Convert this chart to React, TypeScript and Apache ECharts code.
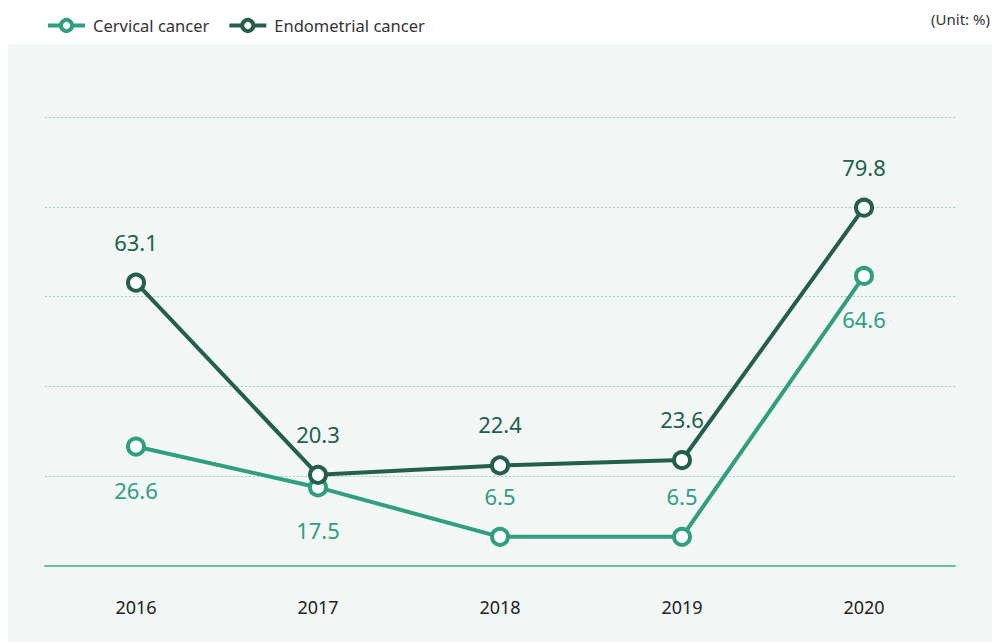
import React, { useEffect, useRef } from "react";
import * as echarts from "echarts";

const years = ["2016", "2017", "2018", "2019", "2020"];
const cervical = [26.6, 17.5, 6.5, 6.5, 64.6];
const endometrial = [63.1, 20.3, 22.4, 23.6, 79.8];
const cervicalLabelPos = ["bottom", "bottom", "top", "top", "bottom"];
const endometrialLabelPos = ["top", "top", "top", "top", "top"];

const C1 = "#2f9f7f";
const C2 = "#235f4b";
const FONT = "'Noto Sans', sans-serif";

export default function App() {
  const ref = useRef<HTMLDivElement>(null);
  useEffect(() => {
    if (!ref.current) return;
    const chart = echarts.init(ref.current, undefined, { renderer: "svg" });
    const mk = (vals: number[], pos: string[]) =>
      vals.map((v, i) => ({
        value: v,
        label: {
          position: pos[i],
          distance: pos[i] === "top" ? 20 : 22,
        },
      }));
    chart.setOption({
      animation: false,
      textStyle: { fontFamily: FONT },
      graphic: [
        {
          type: "rect",
          z: -10,
          shape: { x: 8, y: 44, width: 984, height: 598 },
          style: { fill: "#f2f6f5" },
          silent: true,
        },
        {
          type: "text",
          right: 7,
          top: 11,
          style: { text: "(Unit: %)", fill: "#333", fontSize: 15, fontFamily: FONT },
        },
      ],
      legend: {
        left: 41,
        top: 12,
        itemWidth: 37,
        itemHeight: 14,
        itemGap: 18,
        textStyle: { fontSize: 16.5, color: "#333", fontFamily: FONT, padding: [0, 0, 0, 3] },
        data: [
          {
            name: "Cervical cancer",
            itemStyle: { color: "#fff", borderColor: C1, borderWidth: 4 },
            lineStyle: { color: C1, width: 4 },
          },
          {
            name: "Endometrial cancer",
            itemStyle: { color: "#fff", borderColor: C2, borderWidth: 4 },
            lineStyle: { color: C2, width: 4 },
          },
        ],
      },
      grid: { left: 45, right: 42, top: 117, bottom: 76 },
      xAxis: {
        type: "category",
        data: years,
        boundaryGap: true,
        axisLine: { lineStyle: { color: "#6cbea7", width: 2 } },
        axisTick: { show: false },
        axisLabel: { color: "#222", fontSize: 18, margin: 32, fontFamily: FONT },
        splitLine: { show: false },
      },
      yAxis: {
        type: "value",
        min: 0,
        max: 100,
        interval: 20,
        axisLine: { show: false },
        axisTick: { show: false },
        axisLabel: { show: false },
        splitLine: { lineStyle: { color: "#9ccfbf", type: [2, 2], width: 1 } },
      },
      series: [
        {
          name: "Cervical cancer",
          type: "line",
          data: mk(cervical, cervicalLabelPos),
          symbol: "circle",
          symbolSize: 16,
          lineStyle: { color: C1, width: 4 },
          itemStyle: { color: "#fff", borderColor: C1, borderWidth: 4 },
          label: { show: true, color: C1, fontSize: 22, fontFamily: FONT },
          z: 3,
        },
        {
          name: "Endometrial cancer",
          type: "line",
          data: mk(endometrial, endometrialLabelPos),
          symbol: "circle",
          symbolSize: 16,
          lineStyle: { color: C2, width: 4 },
          itemStyle: { color: "#fff", borderColor: C2, borderWidth: 4 },
          label: { show: true, color: C2, fontSize: 22, fontFamily: FONT },
          z: 4,
        },
      ],
    });
    return () => chart.dispose();
  }, []);
  return (
    <div
      ref={ref}
      style={{ position: "fixed", left: 0, top: 0, width: 997, height: 642, background: "#fff" }}
    />
  );
}
